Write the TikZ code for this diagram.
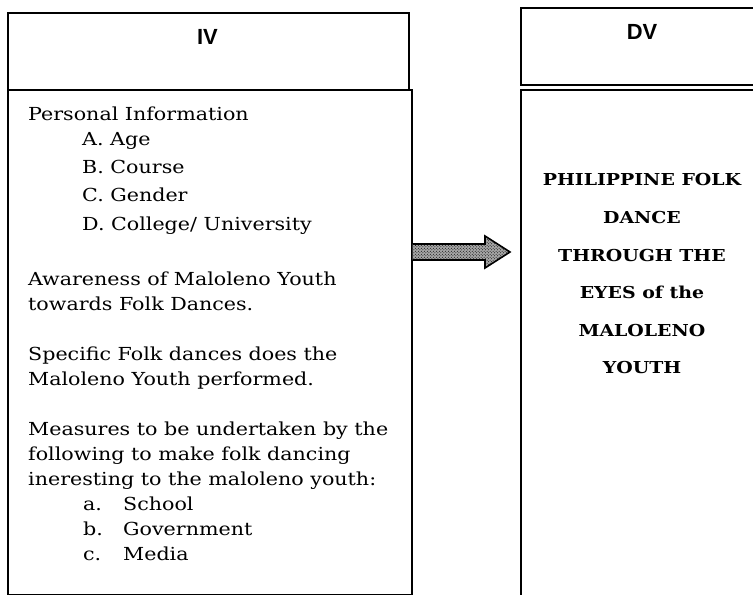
\documentclass[tikz,border=0pt]{standalone}
\usepackage{fontspec}
\setmainfont{DejaVu Serif}[FakeStretch=1.15]
\newfontfamily\headfont{Liberation Sans}
\usetikzlibrary{calc,patterns}

\tikzset{
	boxline/.style={draw, line width=1.6bp, inner sep=0pt, anchor=north west},
	headtext/.style={anchor=base, inner sep=0pt, font=\headfont\bfseries\fontsize{22}{22}\selectfont},
	bodytext/.style={anchor=base west, inner sep=0pt, font=\fontsize{18}{18}\selectfont},
	dvtext/.style={anchor=base, inner sep=0pt, font=\bfseries\fontsize{16.5}{16.5}\selectfont},
	arrowfill/.style={draw, line width=1.6bp, preaction={fill=black!35}, pattern=crosshatch dots, pattern color=black}
}

\begin{document}
\begin{tikzpicture}[x=1bp, y=-1bp]
		%%%%% FRAME %%%%%
		\clip (0,0) rectangle (753,595);
		\fill[white] (0,0) rectangle (753,595);
		
		%%%%% BOXES %%%%%
		\node[boxline, minimum width=401bp, minimum height=77bp] (ivhead) at (7,12) {};
		\node[boxline, minimum width=404bp, minimum height=505bp] (ivbody) at (7,89) {};
		\node[boxline, minimum width=244bp, minimum height=77bp] (dvhead) at (520,7) {};
		\node[boxline, minimum width=244bp, minimum height=520bp] (dvbody) at (520,89) {};
		
		\node[headtext] (ivlabel) at (207.5,45) {IV};
		\node[headtext] (dvlabel) at (642,40) {DV};
		
		%%%%% LEFT TEXT %%%%%
		\node[bodytext] (personal) at (28,121) {Personal Information};
		\foreach \txt [count=\i] in {A. Age, B. Course, C. Gender, D. College/ University}
			\node[bodytext] (info\i) at (82,118+28*\i) {\txt};
		
		\foreach \txt [count=\i] in {Awareness of Maloleno Youth, towards Folk Dances.}
			\node[bodytext] (aware\i) at (28,260+25*\i) {\txt};
		
		\foreach \txt [count=\i] in {Specific Folk dances does the, Maloleno Youth performed.}
			\node[bodytext] (specific\i) at (28,335+25*\i) {\txt};
		
		\foreach \txt [count=\i] in {Measures to be undertaken by the, following to make folk dancing, ineresting to the maloleno youth:}
			\node[bodytext] (measure\i) at (28,410+25*\i) {\txt};
		\foreach \lt/\txt [count=\i] in {a./School, b./Government, c./Media} {
			\node[bodytext] (mletter\i) at (83,485+25*\i) {\lt};
			\node[bodytext] (mitem\i) at (123,485+25*\i) {\txt};
		}
		
		%%%%% RIGHT TEXT %%%%%
		\foreach \txt [count=\i] in {PHILIPPINE FOLK, DANCE, THROUGH THE, EYES of the, MALOLENO, YOUTH}
			\node[dvtext] (title\i) at (642,148.5+37.5*\i) {\txt};
		
		%%%%% ARROW %%%%%
		\coordinate (arrowtip) at (510,252);
		\coordinate (arrowtail) at (ivbody.east |- arrowtip);
		\draw[arrowfill] ($(arrowtail)+(0,-8)$) -- ($(arrowtip)+(-25,-8)$) -- ($(arrowtip)+(-25,-16)$)
			-- (arrowtip) -- ($(arrowtip)+(-25,16)$) -- ($(arrowtip)+(-25,8)$) -- ($(arrowtail)+(0,8)$);
		
\end{tikzpicture}
\end{document}
